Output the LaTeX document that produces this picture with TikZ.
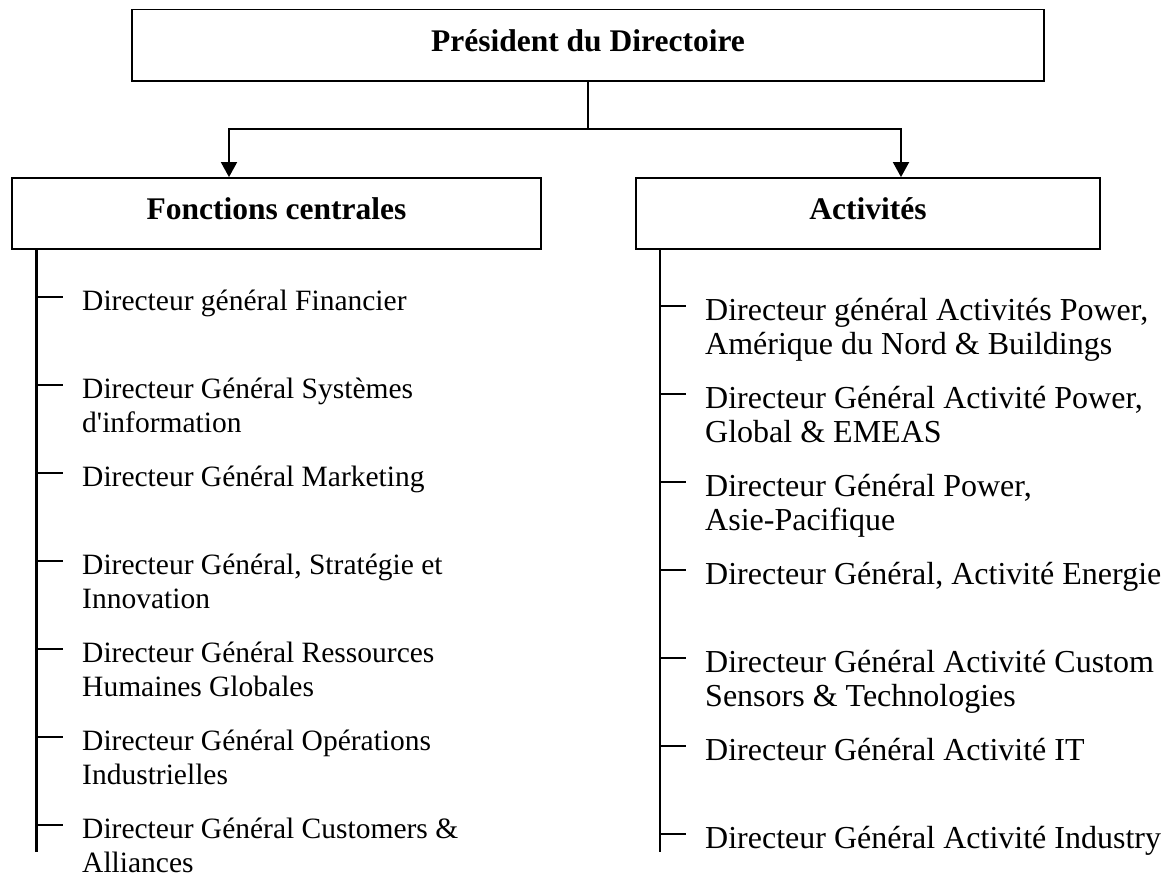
\documentclass[tikz,border=0pt]{standalone}
\usepackage{fontspec}
\setmainfont{Liberation Serif}
\usetikzlibrary{arrows.meta,positioning}
\tikzset{
  headbox/.style   = {draw,line width=1.8pt,inner sep=0pt,
                      font=\fontsize{31.5}{36}\selectfont\bfseries,
                      text height=22pt,text depth=10pt},
  joinline/.style  = {line width=1.8pt},
  downarr/.style   = {-{Triangle[length=15pt,width=16pt]},line width=1.8pt},
  ticklink/.style  = {line width=1.6pt,shorten >=18.7pt},
  leftitem/.style  = {anchor=north west,inner sep=0pt,align=left,
                      font=\fontsize{29.5}{34}\selectfont},
  rightitem/.style = {anchor=north west,inner sep=0pt,align=left,
                      font=\fontsize{32}{34}\selectfont}
}

\begin{document}
\begin{tikzpicture}[x=1pt,y=-1pt]
  \useasboundingbox (0,0) rectangle (1169,882);
  % boxes
  \node[headbox,minimum width=912pt,minimum height=71.5pt] (pres) at (588,45.25)
       {Président du Directoire};
  \node[headbox,minimum width=529pt,minimum height=71pt] (fonc) at (276.5,213.5)
       {Fonctions centrales};
  \node[headbox,minimum width=464pt,minimum height=71pt] (act) at (868,213.5)
       {Activités};
  % links from the top
  \coordinate (split) at (588,129);
  \draw[joinline] (pres.south) -- (split);
  \draw[downarr] (split) -| ([xshift=-47.5pt]fonc.north);
  \draw[downarr] (split) -| ([xshift=33pt]act.north);
  % left column (strut height = 0.7*34 = 23.8)
  \coordinate (lend) at (36.7,852);
  \draw[line width=3pt] (fonc.south -| lend) -- (lend);
  \foreach \txt [count=\i from 0] in {
      {Directeur général Financier},
      {Directeur Général Systèmes\\d\textquotesingle information},
      {Directeur Général Marketing},
      {Directeur Général, Stratégie et\\Innovation},
      {Directeur Général Ressources\\Humaines Globales},
      {Directeur Général Opérations\\Industrielles},
      {Directeur Général Customers \&\\Alliances}}{
    \coordinate (lt\i) at (36.7,297+88*\i);
    \node[leftitem] (lf\i) at (82,297+88*\i+13-23.8) {\strut\txt};
    \draw[ticklink] (lt\i) -- (lt\i -| lf\i.west);
  }
  % right column
  \coordinate (rend) at (660,852);
  \draw[line width=1.8pt] (act.south -| rend) -- (rend);
  \foreach \txt [count=\i from 0] in {
      {Directeur général Activités Power,\\Amérique du Nord \& Buildings},
      {Directeur Général Activité Power,\\Global \& EMEAS},
      {Directeur Général Power,\\Asie-Pacifique},
      {Directeur Général, Activité Energie},
      {Directeur Général Activité Custom\\Sensors \& Technologies},
      {Directeur Général Activité IT},
      {Directeur Général Activité Industry}}{
    \coordinate (rt\i) at (660,306+88*\i);
    \node[rightitem] (rf\i) at (705,306+88*\i+14-23.8) {\strut\txt};
    \draw[ticklink] (rt\i) -- (rt\i -| rf\i.west);
  }
\end{tikzpicture}
\end{document}
